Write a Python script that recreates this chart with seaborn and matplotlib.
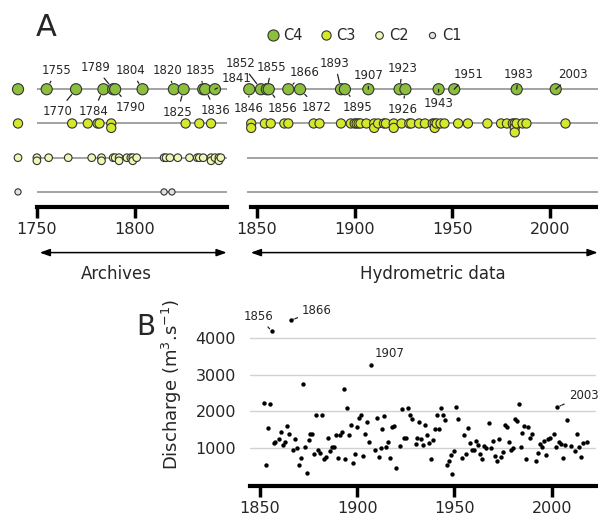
import matplotlib
matplotlib.use("Agg")
import matplotlib.pyplot as plt
import pandas as pd
import seaborn as sns
from matplotlib.lines import Line2D

# ---- data (panel A: flood classes by year) ----
classes = ["C1", "C2", "C3", "C4"]
c4_years = [1755, 1770, 1784, 1789, 1790, 1804, 1820, 1825, 1835, 1836, 1841,
            1846, 1852, 1855, 1856, 1866, 1872, 1893, 1895, 1907, 1923, 1926,
            1943, 1951, 1983, 2003]
c3_years = [1768, 1776, 1781, 1782, 1788, 1788, 1826, 1833, 1839,
            1847, 1847, 1854, 1857, 1864, 1866, 1879, 1882, 1893, 1898, 1900,
            1901, 1902, 1903, 1906, 1910, 1910, 1912, 1915, 1916, 1920, 1920,
            1924, 1928, 1929, 1933, 1936, 1940, 1941, 1941, 1942, 1944, 1946,
            1953, 1958, 1968, 1975, 1978, 1981, 1982, 1982, 1982, 1983, 1986,
            1988, 2008]
c2_years = [1750, 1750, 1756, 1766, 1778, 1783, 1783, 1789, 1790, 1792, 1792,
            1796, 1798, 1799, 1799, 1801, 1815, 1816, 1818, 1822, 1828, 1832,
            1833, 1835, 1839, 1839, 1841, 1843, 1843, 1844]
c1_years = [1815, 1819]

# ---- data (panel B: annual peak discharge) ----
years_b = [1852, 1853, 1854, 1855, 1856, 1857, 1858, 1860, 1861, 1862, 1863,
           1864, 1865, 1866, 1867, 1868, 1869, 1870, 1871, 1872, 1873, 1874,
           1875, 1876, 1877, 1878, 1879, 1880, 1881, 1882, 1883, 1884, 1885,
           1886, 1887, 1888, 1889, 1890, 1891, 1892, 1893, 1894, 1895, 1896,
           1897, 1898, 1899, 1900, 1901, 1902, 1903, 1904, 1905, 1906, 1907,
           1909, 1910, 1911, 1912, 1913, 1914, 1915, 1916, 1917, 1918, 1919,
           1920, 1922, 1923, 1924, 1925, 1926, 1927, 1928, 1930, 1931, 1932,
           1933, 1934, 1935, 1936, 1937, 1938, 1939, 1940, 1941, 1942, 1943,
           1944, 1945, 1946, 1947, 1948, 1949, 1950, 1951, 1952, 1954, 1955,
           1956, 1957, 1958, 1959, 1960, 1961, 1962, 1963, 1964, 1965, 1966,
           1968, 1969, 1970, 1971, 1972, 1973, 1974, 1975, 1976, 1977, 1978,
           1979, 1980, 1981, 1982, 1983, 1984, 1985, 1986, 1987, 1988, 1989,
           1990, 1992, 1993, 1994, 1995, 1996, 1997, 1998, 1999, 2001, 2002,
           2003, 2004, 2005, 2006, 2007, 2008, 2010, 2012, 2013, 2014, 2015,
           2016, 2018]
discharge_b = [2230, 520, 1530, 2210, 4200, 1140, 1170, 1250, 1440, 1080, 1160,
               1610, 1390, 4500, 940, 1250, 980, 540, 720, 2760, 1010, 300,
               1210, 1370, 1370, 820, 1910, 940, 850, 1910, 700, 740, 1260,
               910, 1010, 1030, 1360, 720, 1360, 1440, 2610, 680, 2100, 1360,
               1630, 570, 830, 1560, 1830, 1900, 780, 1370, 1700, 1170, 3280,
               950, 1830, 740, 980, 1520, 1870, 1020, 1160, 720, 1580, 1610,
               440, 1050, 2070, 1270, 1280, 2100, 1900, 1790, 1100, 1270, 1700,
               1250, 1080, 1630, 1350, 1140, 690, 1210, 1520, 1900, 1520, 2090,
               1910, 1760, 520, 630, 810, 280, 900, 2110, 1790, 720, 1360,
               820, 1540, 1140, 940, 950, 1190, 1070, 830, 700, 1050, 980,
               1690, 990, 1190, 770, 640, 1230, 750, 890, 1630, 1580, 1160,
               940, 980, 1800, 1730, 2210, 1030, 1410, 1590, 700, 1560, 1280,
               1370, 640, 860, 1100, 1030, 1190, 790, 1230, 1270, 1390, 1030,
               2120, 1160, 1100, 720, 1070, 1760, 1050, 920, 1390, 1030, 750,
               1120, 1150]
b_label_years = [1856, 1866, 1907, 2003]

# ---- styling ----
palette = {"C4": "#8cc03c", "C3": "#d5e92c", "C2": "#f0f7b4", "C1": "#e2e2e2"}
sizes = {"C4": 64, "C3": 44, "C2": 30, "C1": 20}
stack_step = {"C4": 0.13, "C3": 0.13, "C2": 0.09, "C1": 0.09}
row_of = {c: i + 1 for i, c in enumerate(classes)}
split_year = 1845

# label offsets (pixels) for C4 years: (dx, dy up)
c4_label_offsets = [(10, 19), (-18, -22), (-10, -22), (-18, 22), (15, -18),
                    (-12, 19), (-6, 19), (-6, -23), (-3, 19), (10, -21),
                    (22, 11), (-1, -19), (-20, 26), (5, 22), (14, -19),
                    (16, 17), (17, -18), (-6, 26), (13, -18), (0, 14),
                    (3, 21), (-3, -20), (0, -14), (14, 15), (2, 15), (17, 15)]
b_label_offsets = [(-13, 15), (26, 10), (19, 11), (26, 11)]

sns.set_theme(style="white")
plt.rcParams["font.family"] = ["DejaVu Sans"]

W, H = 598, 517
fig = plt.figure(figsize=(W / 100, H / 100), dpi=100)


def px_axes(x0, y0, x1, y1):
    return fig.add_axes([x0 / W, 1 - y1 / H, (x1 - x0) / W, (y1 - y0) / H])


# build the class table
frames = []
for cls, yrs in zip(classes, [c1_years, c2_years, c3_years, c4_years]):
    frames.append(pd.DataFrame({"year": yrs, "cls": cls}))
df = pd.concat(frames, ignore_index=True)
df["row"] = df["cls"].map(row_of)
df["dup"] = df.groupby(["cls", "year"]).cumcount()
df["ypos"] = df["row"] - df["dup"] * df["cls"].map(stack_step)

ylim_a = (0.56, 5.0)


def timeline(ax, sub, xlim, ticks, lo):
    for r in row_of.values():
        ax.axhline(r, color="#8a8a8a", lw=1.1, zorder=0)
    sns.scatterplot(data=sub, x="year", y="ypos", hue="cls", size="cls",
                    sizes=sizes, palette=palette, edgecolor="#333333",
                    linewidth=0.8, legend=False, ax=ax, zorder=3, clip_on=False)
    ax.set_xlim(xlim)
    ax.set_ylim(ylim_a)
    ax.set_xticks(ticks)
    ax.set_yticks([])
    ax.set_xlabel("")
    ax.set_ylabel("")
    for s in ["top", "left", "right"]:
        ax.spines[s].set_visible(False)
    ax.spines["bottom"].set_linewidth(3)
    ax.spines["bottom"].set_color("black")
    ax.spines["bottom"].set_bounds(lo, xlim[1])
    ax.tick_params(axis="x", bottom=True, length=8, width=2.5, color="black",
                   labelsize=11.5, pad=3)
    ax.patch.set_alpha(0)


axL = px_axes(36.9, 55, 226.7, 207)
axR = px_axes(247.3, 55, 597.7, 207)
timeline(axL, df[df["year"] < split_year], (1750, 1847), [1750, 1800], 1750)
timeline(axR, df[df["year"] >= split_year], (1845, 2024.5),
         [1850, 1900, 1950, 2000], 1847)

# row key markers on the far left
axK = px_axes(10, 55, 26, 207)
sns.scatterplot(x=[0] * len(classes), y=[row_of[c] for c in classes],
                hue=classes, size=classes, sizes=sizes, palette=palette,
                edgecolor="#333333", linewidth=0.8, legend=False, ax=axK)
axK.set_xlim(-1, 1)
axK.set_ylim(ylim_a)
axK.axis("off")

# C4 year labels
for yr, (dx, dy) in zip(c4_years, c4_label_offsets):
    ax = axL if yr < split_year else axR
    ax.annotate(str(yr), xy=(yr, row_of["C4"]), xytext=(dx, dy),
                textcoords="offset pixels", ha="center", va="center",
                fontsize=8.5, annotation_clip=False,
                arrowprops=dict(arrowstyle="-", color="#222222", lw=0.9,
                                shrinkA=1, shrinkB=5))

# period arrows
arrow_kw = dict(arrowstyle="<|-|>,head_length=0.5,head_width=0.18",
                color="black", lw=1.1, shrinkA=0, shrinkB=0)
axL.annotate("", xy=(0.015, -0.30), xytext=(1.0, -0.30),
             xycoords="axes fraction", arrowprops=arrow_kw)
axR.annotate("", xy=(0.01, -0.30), xytext=(1.0, -0.30),
             xycoords="axes fraction", arrowprops=arrow_kw)
axL.text(0.417, -0.44, "Archives", transform=axL.transAxes, ha="center",
         va="center", fontsize=12)
axR.text(0.53, -0.44, "Hydrometric data", transform=axR.transAxes,
         ha="center", va="center", fontsize=12)

# legend
handles = [Line2D([], [], ls="", marker="o", markersize=sizes[c] ** 0.5,
                  markerfacecolor=palette[c], markeredgecolor="#333333",
                  markeredgewidth=0.8) for c in classes[::-1]]
fig.legend(handles, classes[::-1], loc="center",
           bbox_to_anchor=(364 / W, 1 - 36 / H), ncol=4, frameon=False,
           fontsize=10.5, handletextpad=0.2, columnspacing=1.1,
           handlelength=1.0)

fig.text(46 / W, 1 - 28 / H, "A", fontsize=22, ha="center", va="center")
fig.text(146 / W, 1 - 327 / H, "B", fontsize=20, ha="center", va="center")

# ---- panel B ----
axB = px_axes(250, 302, 596, 486)
sns.scatterplot(x=years_b, y=discharge_b, color="black", s=10, linewidth=0,
                ax=axB, zorder=3)
axB.set_xlim(1844.9, 2022.8)
axB.set_ylim(-50, 5000)
axB.set_xticks([1850, 1900, 1950, 2000])
axB.set_yticks([1000, 2000, 3000, 4000])
axB.yaxis.grid(True, color="#d2d2d2", lw=1)
axB.xaxis.grid(False)
for s in ["top", "left", "right"]:
    axB.spines[s].set_visible(False)
axB.spines["bottom"].set_linewidth(3)
axB.spines["bottom"].set_color("black")
axB.tick_params(axis="x", bottom=True, length=8, width=2.5, color="black",
                labelsize=11.5, pad=3)
axB.tick_params(axis="y", left=False, length=0, labelsize=11.5, pad=10)
axB.set_ylabel("Discharge (m$^3$.s$^{-1}$)", fontsize=13)
axB.yaxis.set_label_coords(-0.19, 0.55)

for yr, (dx, dy) in zip(b_label_years, b_label_offsets):
    val = discharge_b[years_b.index(yr)]
    axB.annotate(str(yr), xy=(yr, val), xytext=(dx, dy),
                 textcoords="offset pixels", ha="center", va="center",
                 fontsize=8.5, annotation_clip=False,
                 arrowprops=dict(arrowstyle="-", color="#222222", lw=0.9,
                                 linestyle=(0, (2, 1)), shrinkA=1, shrinkB=2))

fig.savefig("out.png", dpi=100)
